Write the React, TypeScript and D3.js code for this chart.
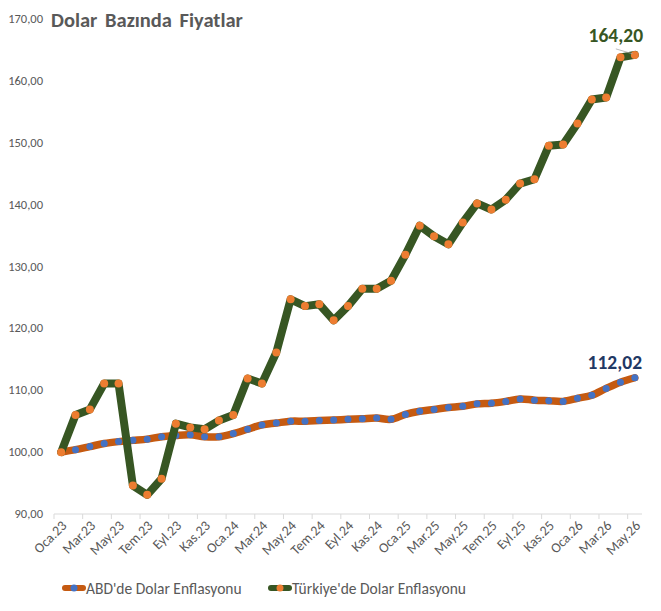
import React, { useEffect, useRef } from "react";
import * as d3 from "d3";

// Turkish month abbreviations and years covered
const monthNames = ["Oca", "Şub", "Mar", "Nis", "May", "Haz", "Tem", "Ağu", "Eyl", "Eki", "Kas", "Ara"];
const years = ["23", "24", "25", "26"];

// Dollar-based price index (Oca.23 = 100)
const usaSeries = [
  100.0, 100.4, 100.9, 101.4, 101.7, 101.9, 102.1, 102.5, 102.7, 102.8, 102.5, 102.5,
  103.0, 103.7, 104.4, 104.7, 105.0, 105.0, 105.1, 105.2, 105.3, 105.4, 105.5, 105.3,
  106.1, 106.6, 106.9, 107.2, 107.4, 107.8, 107.9, 108.2, 108.6, 108.4, 108.3, 108.2,
  108.7, 109.2, 110.3, 111.3, 112.02,
];
const turkeySeries = [
  100.0, 106.0, 106.9, 111.1, 111.1, 94.6, 93.1, 95.7, 104.6, 104.0, 103.7, 105.1,
  106.0, 111.9, 111.1, 116.1, 124.7, 123.6, 123.9, 121.3, 123.6, 126.4, 126.4, 127.7,
  131.9, 136.6, 134.9, 133.6, 137.1, 140.2, 139.2, 140.8, 143.4, 144.1, 149.5, 149.7,
  153.1, 157.0, 157.3, 163.8, 164.2,
];
const yTicks = [90, 100, 110, 120, 130, 140, 150, 160, 170];

const seriesNames = ["ABD'de Dolar Enflasyonu", "Türkiye'de Dolar Enflasyonu"];

const categories: string[] = [];
years.forEach((y) => monthNames.forEach((m) => categories.push(`${m}.${y}`)));
categories.length = usaSeries.length;

const fmt = (v: number) => v.toFixed(2).replace(".", ",");

const FONT = "Calibri, Carlito, 'Open Sans', sans-serif";

const App = () => {
  const ref = useRef<SVGSVGElement>(null);

  useEffect(() => {
    const width = 661;
    const height = 611;
    const svg = d3.select(ref.current);
    svg.selectAll("*").remove();

    // chart border
    svg
      .append("rect")
      .attr("x", 0.5)
      .attr("y", 0.5)
      .attr("width", width - 1)
      .attr("height", height - 1)
      .attr("fill", "#fff")
      .attr("stroke", "#d9d9d9");

    const x = d3.scalePoint<string>().domain(categories).range([54, 642]).padding(0.5);
    const y = d3.scaleLinear().domain([90, 170]).range([514, 19]);
    const step = x.step();

    // y tick labels (no axis line)
    svg
      .append("g")
      .selectAll("text")
      .data(yTicks)
      .join("text")
      .attr("x", 43)
      .attr("y", (d) => y(d) + 4)
      .attr("text-anchor", "end")
      .attr("font-family", FONT)
      .attr("font-size", 12.5)
      .attr("fill", "#595959")
      .text((d) => fmt(d));

    // x axis line and ticks every two months
    const axis = svg.append("g");
    axis
      .append("line")
      .attr("x1", 54)
      .attr("x2", 642)
      .attr("y1", y(90))
      .attr("y2", y(90))
      .attr("stroke", "#d9d9d9");
    const tickIdx = d3.range(0, categories.length, 2);
    axis
      .selectAll("line.tick")
      .data(tickIdx)
      .join("line")
      .attr("class", "tick")
      .attr("x1", (i) => 54 + i * step)
      .attr("x2", (i) => 54 + i * step)
      .attr("y1", y(90))
      .attr("y2", y(90) + 5)
      .attr("stroke", "#d9d9d9");
    axis
      .selectAll("text")
      .data(tickIdx)
      .join("text")
      .attr("transform", (i) => `translate(${x(categories[i])! + 4},${y(90) + 10}) rotate(-45)`)
      .attr("text-anchor", "end")
      .attr("dominant-baseline", "middle")
      .attr("font-family", FONT)
      .attr("font-size", 14)
      .attr("fill", "#595959")
      .text((i) => categories[i]);

    const straight = d3
      .line<number>()
      .x((_, i) => x(categories[i])!)
      .y((d) => y(d));
    const smooth = d3
      .line<number>()
      .x((_, i) => x(categories[i])!)
      .y((d) => y(d))
      .curve(d3.curveCatmullRom.alpha(0.5));

    // ABD series
    svg
      .append("path")
      .datum(usaSeries)
      .attr("d", smooth)
      .attr("fill", "none")
      .attr("stroke", "#c55a11")
      .attr("stroke-width", 7.5)
      .attr("stroke-linejoin", "round")
      .attr("stroke-linecap", "round");
    svg
      .append("g")
      .selectAll("circle")
      .data(usaSeries)
      .join("circle")
      .attr("cx", (_, i) => x(categories[i])!)
      .attr("cy", (d) => y(d))
      .attr("r", 3.5)
      .attr("fill", "#4472c4");

    // Türkiye series
    svg
      .append("path")
      .datum(turkeySeries)
      .attr("d", straight)
      .attr("fill", "none")
      .attr("stroke", "#375623")
      .attr("stroke-width", 8)
      .attr("stroke-linejoin", "round")
      .attr("stroke-linecap", "round");
    svg
      .append("g")
      .selectAll("circle")
      .data(turkeySeries)
      .join("circle")
      .attr("cx", (_, i) => x(categories[i])!)
      .attr("cy", (d) => y(d))
      .attr("r", 4)
      .attr("fill", "#ed7d31");

    // end-value labels
    const last = categories.length - 1;
    const lastX = x(categories[last])!;
    const tLast = turkeySeries[last];
    const uLast = usaSeries[last];
    svg
      .append("line")
      .attr("x1", lastX - 19)
      .attr("y1", y(tLast) - 6)
      .attr("x2", lastX - 2)
      .attr("y2", y(tLast) - 1)
      .attr("stroke", "#a6a6a6")
      .attr("stroke-width", 0.75);
    svg
      .append("text")
      .attr("x", lastX - 19)
      .attr("y", y(tLast) - 13)
      .attr("text-anchor", "middle")
      .attr("font-family", FONT)
      .attr("font-weight", "bold")
      .attr("font-size", 19.5)
      .attr("fill", "#375623")
      .text(fmt(tLast));
    svg
      .append("text")
      .attr("x", lastX - 20)
      .attr("y", y(uLast) - 9)
      .attr("text-anchor", "middle")
      .attr("font-family", FONT)
      .attr("font-weight", "bold")
      .attr("font-size", 19.5)
      .attr("fill", "#1f3864")
      .text(fmt(uLast));

    // title
    svg
      .append("text")
      .attr("x", 51)
      .attr("y", 27)
      .attr("font-family", FONT)
      .attr("font-weight", "bold")
      .attr("font-size", 20.5)
      .attr("fill", "#595959")
      .attr("word-spacing", 3)
      .text("Dolar Bazında Fiyatlar");

    // legend
    const legendItems = [
      { name: seriesNames[0], line: "#c55a11", dot: "#4472c4", x: 62 },
      { name: seriesNames[1], line: "#375623", dot: "#ed7d31", x: 268 },
    ];
    const lg = svg
      .append("g")
      .selectAll("g")
      .data(legendItems)
      .join("g")
      .attr("transform", (d) => `translate(${d.x},588)`);
    lg.append("line")
      .attr("x1", 3)
      .attr("x2", 21)
      .attr("stroke", (d) => d.line)
      .attr("stroke-width", 6)
      .attr("stroke-linecap", "round");
    lg.append("circle").attr("cx", 12).attr("r", 3.5).attr("fill", (d) => d.dot);
    lg.append("text")
      .attr("x", 24)
      .attr("y", 5.5)
      .attr("font-family", FONT)
      .attr("font-size", 15.5)
      .attr("fill", "#595959")
      .text((d) => d.name);
  }, []);

  return <svg ref={ref} width={661} height={611} style={{ display: "block", margin: -8 }} />;
};

export default App;
